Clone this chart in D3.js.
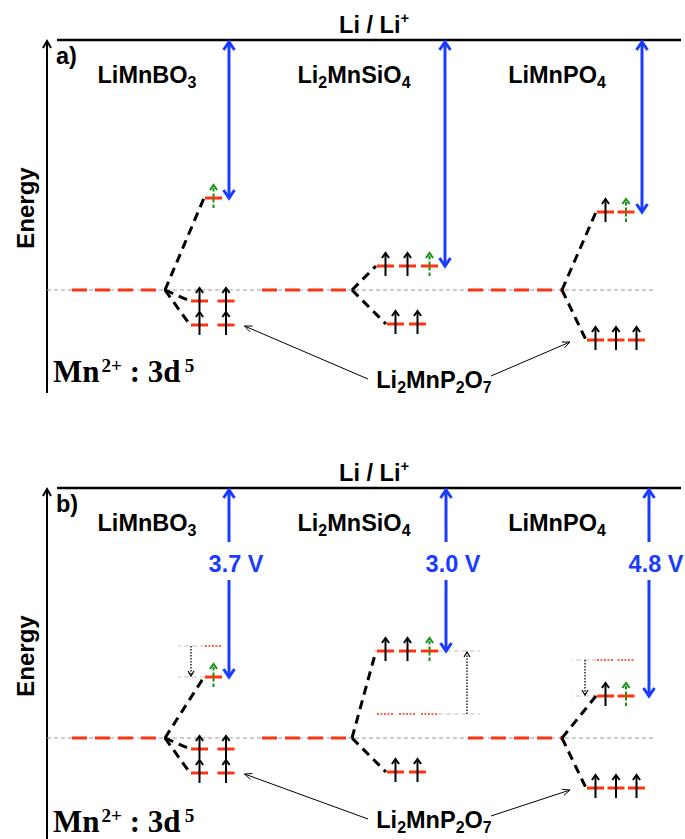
<!DOCTYPE html>
<html>
<head>
<meta charset="utf-8">
<script src="https://cdn.jsdelivr.net/npm/d3@7"></script>
<style>
  body { margin: 0; background: #fff; }
  svg { display: block; }
  text { white-space: pre; }
</style>
</head>
<body>
<script>
// ---------------- data ----------------
// Energies are depths below the Li/Li+ reference, in arbitrary units (a.u.).
const compounds = ["LiMnBO3", "Li2MnSiO4", "LiMnPO4"];
const compoundLabels = [
  [["LiMnBO"], ["3", "sub"]],
  [["Li"], ["2", "sub"], ["MnSiO"], ["4", "sub"]],
  [["LiMnPO"], ["4", "sub"]]
];
const panelLetters = ["a)", "b)"];
const freeIonDepth = 10.0;                 // Mn2+ 3d level before splitting
const redoxDepthA = [6.32, 9.04, 6.88];    // redox-active set, panel a
const redoxVolts = [3.7, 3.0, 4.8];        // Mn2+/Mn3+ potential vs Li/Li+, panel b
const upperOrbitals = [1, 3, 2];           // orbitals in the upper set
const upperSpinUp = [0, 2, 1];             // filled (black) spins in the upper set; the last orbital holds the redox electron
const lowerDepths = [[10.44, 11.4], [11.36], [12.0]];
const lowerOrbitals = [2, 2, 3];
// schematic potential axis: volts -> depth (a.u.)
const voltDomain = [0, 3.0, 3.7, 4.8];
const voltDepths = [0, 6.52, 7.56, 8.32];

// ---------------- layout ----------------
const W = 685, H = 839;
const FONT = "'Liberation Sans', Arial, Helvetica, sans-serif";
const SERIF = "'Liberation Serif', 'Times New Roman', serif";
const BLUE = "#1a3cff", RED = "#ff3311", GREEN = "#139413";
const ORB_W = 17;

const colX = {
  freeStart: [72, 262, 468],
  vertex: [165, 352, 562],
  upperStart: [205, 377, 597],
  lowerStart: [191, 387, 587],
  pitch: [26.5, 22, 20.5],
  label: [147, 354, 557],
  blue: [[229, 445, 642], [229, 446, 649]],
  helperSide: [-1, 1, -1],
  helperLen: [27, 42, 25],
  helperArrow: [14, 29, 12]
};

const panels = [
  { liY: 40, axisEnd: 393, ptrBase: 388, mnBase: 382, shifted: false },
  { liY: 488, axisEnd: 839, ptrBase: 828, mnBase: 832, shifted: true }
];

const voltScale = d3.scaleLinear().domain(voltDomain).range(voltDepths);

const svg = d3.select("body").append("svg")
  .attr("width", W).attr("height", H)
  .attr("viewBox", `0 0 ${W} ${H}`);

// rich text with sub/superscripts
function rich(g, x, y, parts, o) {
  const t = g.append("text")
    .attr("x", x).attr("y", y)
    .attr("font-family", o.family || FONT)
    .attr("font-weight", "bold")
    .attr("font-size", o.size)
    .attr("text-anchor", o.anchor || "middle")
    .attr("fill", o.fill || "#000");
  let shift = 0;
  parts.forEach(([s, mode, dx]) => {
    const target = mode === "sub" ? o.size * (o.subDy || 0.24)
                 : mode === "sup" ? -o.size * (o.supDy || 0.4) : 0;
    const ts = t.append("tspan").text(s).attr("dy", target - shift);
    if (dx) ts.attr("dx", dx);
    if (mode) ts.attr("font-size", o.size * (mode === "sub" ? (o.subScale || 0.68) : (o.supScale || 0.62)));
    shift = target;
  });
  return t;
}

// open chevron arrowhead; dir = -1 points up, +1 points down
function chevron(g, x, y, dir, w, h, color, sw) {
  g.append("path")
    .attr("d", `M${x - w},${y - dir * h}L${x},${y}L${x + w},${y - dir * h}`)
    .attr("fill", "none").attr("stroke", color).attr("stroke-width", sw)
    .attr("stroke-linejoin", "miter").attr("stroke-linecap", "butt");
}

function line(g, x1, y1, x2, y2, color, sw, dash) {
  const l = g.append("line")
    .attr("x1", x1).attr("y1", y1).attr("x2", x2).attr("y2", y2)
    .attr("stroke", color).attr("stroke-width", sw);
  if (dash) l.attr("stroke-dasharray", dash);
  return l;
}

// spin arrow on an orbital
function spin(g, cx, cy, color, dashed) {
  line(g, cx, cy + 10, cx, cy - 12, color, 2, dashed ? "3.5,2" : null);
  chevron(g, cx, cy - 13, -1, 3.6, 5, color, 2);
}

function orbitalX(i, start, k) {
  return start + ORB_W / 2 + k * colX.pitch[i];
}

panels.forEach((p, pi) => {
  const g = svg.append("g");
  const liY = p.liY;
  const y = d3.scaleLinear().domain([0, 12]).range([liY, liY + 300]);
  const yF = y(freeIonDepth);

  // energy axis
  line(g, 47, liY + 1, 47, p.axisEnd, "#000", 2);
  chevron(g, 47, liY + 1, -1, 4, 7, "#000", 2);
  g.append("text")
    .attr("transform", `translate(34,${liY + 168}) rotate(-90)`)
    .attr("text-anchor", "middle")
    .attr("font-family", FONT).attr("font-weight", "bold").attr("font-size", 24)
    .text("Energy");

  // Li/Li+ reference
  line(g, 57, liY, 681, liY, "#000", 2.5);
  rich(g, 374, liY - 7, [["Li / Li"], ["+", "sup"]], { size: 23.5, supDy: 0.42, supScale: 0.62 });
  g.append("text")
    .attr("x", 56).attr("y", liY + 24)
    .attr("font-family", FONT).attr("font-weight", "bold").attr("font-size", 23.5)
    .text(panelLetters[pi]);

  // free-ion reference level
  line(g, 47, yF, 653, yF, "#999", 1.2, "4,3");

  compounds.forEach((c, i) => {
    const vx = colX.vertex[i];
    const upperDepth = p.shifted ? voltScale(redoxVolts[i]) : redoxDepthA[i];
    const yU = y(upperDepth);
    const uStart = colX.upperStart[i];
    const lStart = colX.lowerStart[i];

    // compound name
    rich(g, colX.label[i], liY + 43, compoundLabels[i], { size: 23.5, subDy: 0.22, subScale: 0.68 });

    // free-ion level
    line(g, colX.freeStart[i], yF, vx, yF, RED, 3, "15,8");

    // shift of the redox level (panel b)
    if (p.shifted) {
      const yOld = y(redoxDepthA[i]);
      const n = upperOrbitals[i];
      const side = colX.helperSide[i];
      const edge = side < 0 ? uStart : orbitalX(i, uStart, n - 1) + ORB_W / 2;
      const far = edge + side * colX.helperLen[i];
      line(g, edge, yOld, far, yOld, "#c4c4c4", 1.2, "5,3");
      line(g, edge, yU, far, yU, "#c4c4c4", 1.2, "5,3");
      for (let k = 0; k < n; k++) {
        const cx = orbitalX(i, uStart, k);
        line(g, cx - ORB_W / 2, yOld, cx + ORB_W / 2, yOld, RED, 1.6, "2,1.5");
      }
      const ax = edge + side * colX.helperArrow[i];
      const dir = yU > yOld ? 1 : -1;
      line(g, ax, yOld, ax, yU - dir * 1, "#000", 1.3, "1.5,1.5");
      chevron(g, ax, yU - dir * 1, dir, 3, 5, "#000", 1.2);
    }

    // splitting branches
    const branch = (x2, y2) => line(g, vx, yF, x2, y2, "#000", 3, "9,6");
    branch(uStart - 1, yU);
    lowerDepths[i].forEach(d => branch(lStart - 1, y(d)));

    // upper (redox-active) set
    for (let k = 0; k < upperOrbitals[i]; k++) {
      const cx = orbitalX(i, uStart, k);
      line(g, cx - ORB_W / 2, yU, cx + ORB_W / 2, yU, RED, 3);
      if (k < upperSpinUp[i]) spin(g, cx, yU, "#000", false);
      else spin(g, cx, yU, GREEN, true);
    }

    // lower sets
    lowerDepths[i].forEach(d => {
      const yl = y(d);
      for (let k = 0; k < lowerOrbitals[i]; k++) {
        const cx = orbitalX(i, lStart, k);
        line(g, cx - ORB_W / 2, yl, cx + ORB_W / 2, yl, RED, 3);
        spin(g, cx, yl, "#000", false);
      }
    });

    // potential arrow to Li/Li+
    const bx = colX.blue[pi][i];
    const top = liY + 2, bot = yU;
    if (p.shifted) {
      line(g, bx, top, bx, liY + 54, BLUE, 3);
      line(g, bx, liY + 92, bx, bot - 1, BLUE, 3);
      g.append("text")
        .attr("x", bx + 7).attr("y", liY + 84)
        .attr("text-anchor", "middle")
        .attr("font-family", FONT).attr("font-weight", "bold").attr("font-size", 23.5)
        .attr("fill", BLUE)
        .text(`${d3.format(".1f")(redoxVolts[i])} V`);
    } else {
      line(g, bx, top, bx, bot - 1, BLUE, 3);
    }
    chevron(g, bx, top, -1, 5.5, 8, BLUE, 3);
    chevron(g, bx, bot, 1, 5.5, 8, BLUE, 3);
  });

  // Mn2+ : 3d5
  rich(g, 53, p.mnBase, [["Mn"], ["2+", "sup", 2], [" : 3d"], ["5", "sup", 4]],
       { family: SERIF, size: 31, anchor: "start", supDy: 0.33, supScale: 0.62 });

  // Li2MnP2O7 pointers
  const ptrLabel = [["Li"], ["2", "sub"], ["MnP"], ["2", "sub"], ["O"], ["7", "sub"]];
  rich(g, 434, p.ptrBase, ptrLabel, { size: 23.5, subDy: 0.22, subScale: 0.68 });
  const lt = { x: orbitalX(0, colX.lowerStart[0], lowerOrbitals[0] - 1) + ORB_W / 2 + 10, y: y(lowerDepths[0][1]) + 1 };
  const rt = { x: colX.lowerStart[2] - 17, y: y(lowerDepths[2][0]) + 2 };
  const pointer = (x1, y1, t) => {
    line(g, x1, y1, t.x, t.y, "#000", 1);
    const ang = Math.atan2(t.y - y1, t.x - x1);
    const a1 = ang + Math.PI - 0.4, a2 = ang + Math.PI + 0.4, L = 8;
    g.append("path")
      .attr("d", `M${t.x + L * Math.cos(a1)},${t.y + L * Math.sin(a1)}L${t.x},${t.y}L${t.x + L * Math.cos(a2)},${t.y + L * Math.sin(a2)}`)
      .attr("fill", "none").attr("stroke", "#000").attr("stroke-width", 1);
  };
  pointer(368, p.ptrBase - 9, lt);
  pointer(491, p.ptrBase - 12, rt);
});
</script>
</body>
</html>
